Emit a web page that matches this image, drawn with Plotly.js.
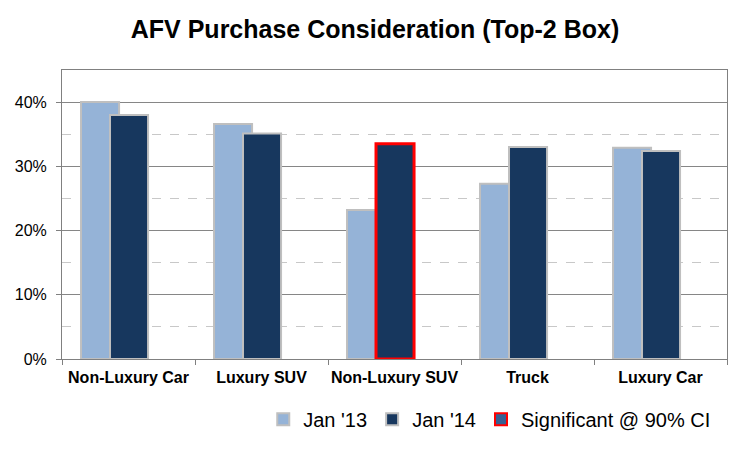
<!DOCTYPE html>
<html>
<head>
<meta charset="utf-8">
<script src="https://cdn.plot.ly/plotly-3.0.1.min.js"></script>
<style>html,body{margin:0;padding:0;background:#fff;}#chart{width:750px;height:449px;}</style>
</head>
<body>
<div id="chart"></div>
<script>
var categories = ["Non-Luxury Car", "Luxury SUV", "Non-Luxury SUV", "Truck", "Luxury Car"];
var jan13 = [0.400, 0.366, 0.232, 0.273, 0.329];
var jan14 = [0.380, 0.351, 0.335, 0.330, 0.324];
var significant14 = [false, false, true, false, false];
var seriesNames = ["Jan '13", "Jan '14", "Significant @ 90% CI"];

var gray = '#BFBFBF';
function fill(v){ return categories.map(function(){ return v; }); }

var traces = [
  {
    type: 'bar', name: seriesNames[0], x: categories, y: jan13,
    offset: fill(-0.357), width: fill(0.286),
    marker: {color: '#95B3D7', line: {color: gray, width: 2}},
    hoverinfo: 'x+y'
  },
  {
    type: 'bar', name: seriesNames[1], x: categories, y: jan14,
    offset: fill(-0.139), width: fill(0.286),
    marker: {
      color: '#17375E',
      line: {
        color: significant14.map(function(s){ return s ? '#FF0000' : gray; }),
        width: significant14.map(function(s){ return s ? 3 : 2; })
      }
    },
    hoverinfo: 'x+y'
  },
  {
    type: 'bar', name: seriesNames[2], x: categories, y: fill(null),
    marker: {color: '#376092', line: {color: '#FF0000', width: 2}},
    hoverinfo: 'skip'
  }
];

var layout = {
  width: 750, height: 449,
  margin: {l: 62, r: 23, t: 70, b: 90},
  paper_bgcolor: '#fff', plot_bgcolor: '#fff',
  barmode: 'overlay',
  font: {family: 'Liberation Sans, Arial, sans-serif', color: '#000'},
  title: {
    text: '<b>AFV Purchase Consideration (Top-2 Box)</b>',
    font: {size: 25, color: '#000'},
    x: 0.5, xanchor: 'center', y: 0.935, yanchor: 'middle'
  },
  xaxis: {
    type: 'category',
    tickson: 'boundaries', ticks: 'outside', ticklen: 5, tickcolor: '#808080',
    tickangle: 0, ticklabelstandoff: 4,
    showline: true, linecolor: '#808080', linewidth: 1, mirror: true,
    showgrid: false,
    tickfont: {size: 16, color: '#000', weight: 'bold'},
    range: [-0.5, 4.5]
  },
  yaxis: {
    range: [0, 0.45], dtick: 0.1, tick0: 0, tickformat: '.0%',
    ticks: 'outside', ticklen: 5, tickcolor: '#808080',
    ticklabelstandoff: 6,
    showline: true, linecolor: '#808080', linewidth: 1, mirror: true,
    showgrid: true, gridcolor: '#868686', gridwidth: 1,
    zeroline: false,
    tickfont: {size: 16, color: '#000'},
    minor: {dtick: 0.05, showgrid: true, gridcolor: '#C8C8C8', griddash: 'dash', gridwidth: 1, ticks: ''}
  },
  legend: {
    orientation: 'h',
    xref: 'container', yref: 'container',
    x: 0.351, xanchor: 'left', y: 0.066, yanchor: 'middle',
    font: {size: 20, color: '#000'},
    itemclick: false, itemdoubleclick: false,
    bgcolor: 'rgba(0,0,0,0)'
  },
  showlegend: true
};

Plotly.newPlot('chart', traces, layout, {displayModeBar: false, staticPlot: true});
</script>
</body>
</html>
